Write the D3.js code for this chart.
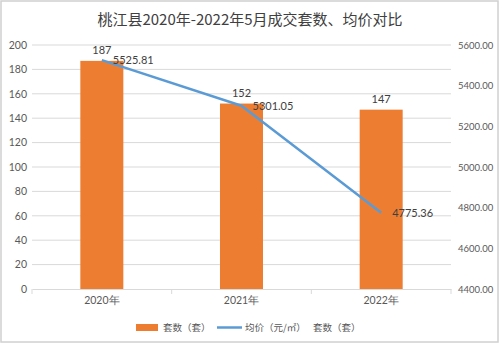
<!DOCTYPE html>
<html><head><meta charset="utf-8">
<script src="https://cdn.jsdelivr.net/npm/d3@7/dist/d3.min.js"></script>
<style>body{margin:0;background:#fff}svg{display:block}</style>
</head><body>
<svg id="c" width="500" height="344"></svg>
<script>
const title = "桃江县2020年-2022年5月成交套数、均价对比";
const categories = ["2020年", "2021年", "2022年"];
const counts = [187, 152, 147];
const prices = [5525.81, 5301.05, 4775.36];
const leftTicks = [0, 20, 40, 60, 80, 100, 120, 140, 160, 180, 200];
const rightTicks = [4400, 4600, 4800, 5000, 5200, 5400, 5600];
const legendItems = ["套数（套）", "均价（元/㎡）", "套数（套）"];

const svg = d3.select("#c");
const numFont = "Lato, 'Liberation Sans', sans-serif";
const cjkFont = "'Noto Sans CJK SC', sans-serif";
const orange = "#ED7D31", blue = "#5B9BD5", grid = "#d9d9d9", txt = "#595959";

svg.append("rect").attr("x", 1).attr("y", 1).attr("width", 497).attr("height", 341)
  .attr("fill", "#fff").attr("stroke", "#d0d0d0").attr("stroke-width", 1.5);

svg.append("text").attr("x", 250).attr("y", 25).attr("text-anchor", "middle")
  .attr("font-family", cjkFont).attr("font-size", 15).attr("fill", "#404040").text(title);

const L = 32, R = 451, T = 45, B = 289;
const x = d3.scaleBand().domain(categories).range([L, R]);
const yL = d3.scaleLinear().domain([0, 200]).range([B, T]);
const yR = d3.scaleLinear().domain([4400, 5600]).range([B, T]);

// gridlines
svg.append("g").selectAll("line").data(leftTicks.slice(1)).join("line")
  .attr("x1", L).attr("x2", R).attr("y1", d => yL(d)).attr("y2", d => yL(d))
  .attr("stroke", grid).attr("stroke-width", 1);

// left axis
const gl = svg.append("g").attr("transform", `translate(${L},0)`)
  .call(d3.axisLeft(yL).tickValues(leftTicks).tickSize(0).tickPadding(5));
gl.select(".domain").remove();
gl.selectAll("text").attr("font-family", numFont).attr("font-size", 10.5).attr("fill", txt);

// right axis
const gr = svg.append("g").attr("transform", `translate(${R},0)`)
  .call(d3.axisRight(yR).tickValues(rightTicks).tickSize(0).tickPadding(7).tickFormat(d3.format(".2f")));
gr.select(".domain").remove();
gr.selectAll("text").attr("font-family", numFont).attr("font-size", 9.5).attr("fill", txt);

// bars
const bw = 43;
svg.append("g").selectAll("rect").data(categories).join("rect")
  .attr("x", d => x(d) + x.bandwidth() / 2 - bw / 2).attr("width", bw)
  .attr("y", (d, i) => yL(counts[i])).attr("height", (d, i) => B - yL(counts[i]))
  .attr("fill", orange);

// x axis
const gx = svg.append("g").attr("transform", `translate(0,${B})`)
  .call(d3.axisBottom(x).tickSize(0).tickPadding(8));
gx.select(".domain").attr("stroke", grid);
gx.selectAll("text").attr("font-family", numFont).attr("font-size", 10.5).attr("fill", txt);
svg.append("g").selectAll("line").data(categories).join("line")
  .attr("x1", d => x(d)).attr("x2", d => x(d)).attr("y1", B).attr("y2", B + 5)
  .attr("stroke", grid);
svg.append("line").attr("x1", R).attr("x2", R).attr("y1", B).attr("y2", B + 5).attr("stroke", grid);

// line
const cx = d => x(d) + x.bandwidth() / 2;
const line = d3.line().x((d, i) => cx(categories[i])).y(d => yR(d));
svg.append("path").datum(prices).attr("d", line).attr("fill", "none")
  .attr("stroke", blue).attr("stroke-width", 2.5).attr("stroke-linejoin", "round");

// bar labels
svg.append("g").selectAll("text").data(counts).join("text")
  .attr("x", (d, i) => cx(categories[i])).attr("y", d => yL(d) - 7)
  .attr("text-anchor", "middle").attr("font-family", numFont).attr("font-size", 11)
  .attr("fill", "#404040").text(d => d);

// price labels
svg.append("g").selectAll("text").data(prices).join("text")
  .attr("x", (d, i) => cx(categories[i]) + 11).attr("y", d => yR(d) + 4)
  .attr("font-family", numFont).attr("font-size", 11)
  .attr("fill", "#404040").text(d => d3.format(".2f")(d));

// legend
const lg = svg.append("g").attr("font-family", cjkFont).attr("font-size", 9.5).attr("fill", txt);
lg.append("rect").attr("x", 136).attr("y", 324).attr("width", 22).attr("height", 7).attr("fill", orange);
lg.append("text").attr("x", 163).attr("y", 331).text(legendItems[0]);
lg.append("line").attr("x1", 217).attr("x2", 242).attr("y1", 327.5).attr("y2", 327.5)
  .attr("stroke", blue).attr("stroke-width", 2.5);
lg.append("text").attr("x", 245).attr("y", 331).text(legendItems[1]);
lg.append("text").attr("x", 313).attr("y", 331).text(legendItems[2]);
</script>
</body></html>
